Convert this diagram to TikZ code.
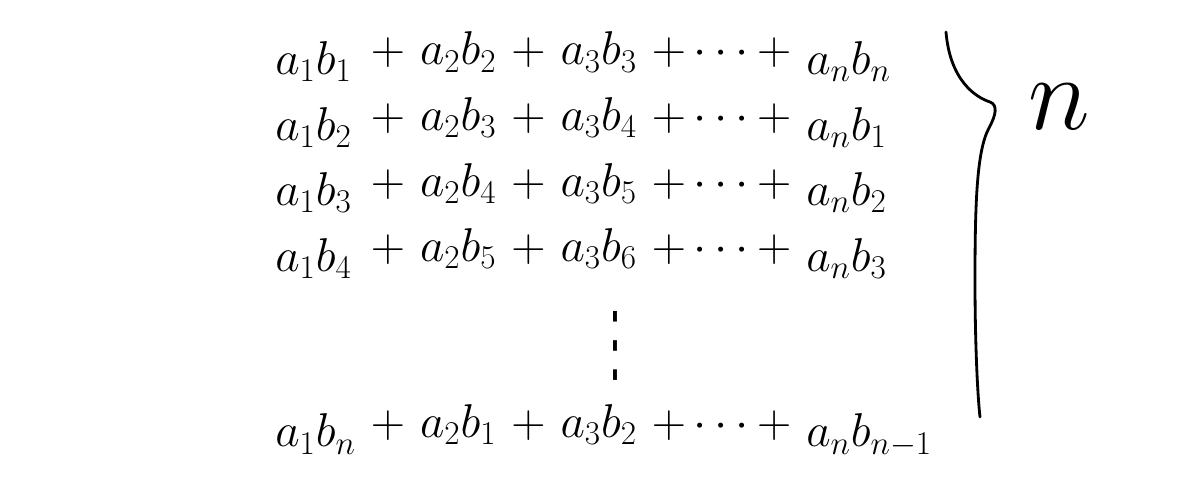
\RequirePackage{fix-cm}
\documentclass[tikz,border=0pt]{standalone}
\usepackage{fontspec}
\newfontfamily\symfont{DejaVu Sans}
\usetikzlibrary{matrix,positioning}
\tikzset{brace/.style={line width=1.6pt,line cap=round}}
\begin{document}
\begin{tikzpicture}[x=0.02cm,y=-0.02cm]
  \useasboundingbox (0,0) rectangle (1200,501);
  \matrix (m)
    [
      matrix of math nodes,
      anchor     = north west,
      inner sep  = 0pt,
      row sep    = 0.24cm,
      column sep = 0.3cm,
      nodes      = {inner sep=0pt, text height=18pt, text depth=7pt,
                    font=\fontsize{27}{32}\selectfont},
      column 1/.style = {anchor=west},
      column 7/.style = {anchor=west}
    ]
    at (275,33)
    {
      a_1b_1 & + & a_2b_2 & + & a_3b_3 & +\cdots+ & a_nb_n \\
      a_1b_2 & + & a_2b_3 & + & a_3b_4 & +\cdots+ & a_nb_1 \\
      a_1b_3 & + & a_2b_4 & + & a_3b_5 & +\cdots+ & a_nb_2 \\
      a_1b_4 & + & a_2b_5 & + & a_3b_6 & +\cdots+ & a_nb_3 \\[2.2cm]
      a_1b_n & + & a_2b_1 & + & a_3b_2 & +\cdots+ & a_nb_{n-1} \\
    };
  \node (dots) [inner sep=0pt] at (615,346)
    {\symfont\fontsize{36}{36}\selectfont\scalebox{0.6}[1.35]{⋮}};
  % brace on the right
  \coordinate (tip) at (994,107);
  \draw [brace] (946,32) .. controls (950,80) and (975,97) .. (990,102)
    .. controls (998,105) and (996,115) .. (989,128)
    .. controls (977,150) and (975,200) .. (975,280)
    .. controls (975,350) and (978,400) .. (980,417);
  \node (n) [right=0.68cm of tip, inner sep=0pt,
    font=\fontsize{60}{60}\selectfont] {$n$};
\end{tikzpicture}
\end{document}
